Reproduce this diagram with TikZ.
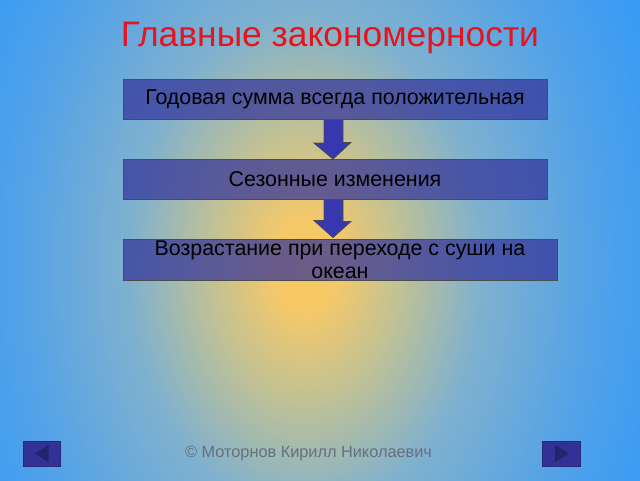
\documentclass[tikz,border=0pt]{standalone}
\usepackage{fontspec}
\setmainfont{Liberation Sans}
\definecolor{bgA}{RGB}{250,202,90}
\definecolor{bgB}{RGB}{244,200,106}
\definecolor{bgC}{RGB}{196,194,146}
\definecolor{bgD}{RGB}{128,177,206}
\definecolor{bgE}{RGB}{82,162,232}
\definecolor{bgF}{RGB}{55,155,245}
\definecolor{boxfill}{RGB}{51,51,153}
\definecolor{arrowfill}{RGB}{55,55,175}
\definecolor{titlered}{RGB}{230,20,30}
\definecolor{footgray}{RGB}{100,112,128}
\definecolor{navfill}{RGB}{50,50,150}
\definecolor{navtri}{RGB}{35,35,110}
\pgfdeclareradialshading{bgshade}{\pgfpoint{0bp}{0bp}}{color(0bp)=(bgA); color(2.2bp)=(bgB); color(6bp)=(bgC); color(11.5bp)=(bgD); color(19bp)=(bgE); color(25bp)=(bgF); color(50bp)=(bgF)}
\tikzset{
  flowbox/.style={draw=black!70, line width=0.8pt, fill=boxfill, fill opacity=0.72, text opacity=1, inner sep=0pt, align=center, font=\fontsize{21.4}{24}\selectfont, minimum height=40pt},
  downarrow/.style={draw=black!70, line width=0.8pt, fill=arrowfill},
  navbtn/.style={fill=navfill, draw=navfill!80!black, line width=0.5pt},
}
\begin{document}
\begin{tikzpicture}[x=1pt,y=-1pt]
\useasboundingbox (0,0) rectangle (640,480);
\begin{scope}
\clip (0,0) rectangle (640,480);
\fill[bgF] (0,0) rectangle (640,480);
\shade[shading=bgshade] (-75,-275) rectangle (685,805);
\end{scope}
% title
\node[text=titlered, font=\fontsize{35.4}{40}\selectfont] (title) at (330,38) {Главные закономерности};
% boxes
\node[flowbox, minimum width=424pt] (b1) at (335,99) {Годовая сумма всегда положительная};
\node[flowbox, minimum width=424pt] (b2) at (335,179) {Сезонные изменения};
\node[flowbox, minimum width=434pt, minimum height=41pt] (b3) at (340,259.5) {Возрастание при переходе с суши на\\[-1pt]океан};
% arrows
\draw[downarrow] ([xshift=-9pt]b1.south -| 333,0) -- ++(19,0) -- ++(0,23) -- ++(8,0) -- ([yshift=-0.5pt]b2.north -| 333,0) -- ++(-19,-16) -- ++(10,0) -- cycle;
\draw[downarrow] ([xshift=-9pt]b2.south -| 333,0) -- ++(19,0) -- ++(0,22) -- ++(8,0) -- ([yshift=1pt]b3.north -| 333,0) -- ++(-19,-17) -- ++(10,0) -- cycle;
% footer
\node[text=footgray, font=\fontsize{16.3}{18}\selectfont] (foot) at (308.5,453) {© Моторнов Кирилл Николаевич};
% nav buttons
\node[navbtn, minimum width=37pt, minimum height=25pt, inner sep=0pt] (prev) at (41.5,453.5) {};
\fill[navtri] ([xshift=-7pt]prev.center) -- ++(14,-8.5) -- ++(0,17) -- cycle;
\node[navbtn, minimum width=38pt, minimum height=25pt, inner sep=0pt] (next) at (561,453.5) {};
\fill[navtri] ([xshift=8pt]next.center) -- ++(-14,-8.5) -- ++(0,17) -- cycle;
\end{tikzpicture}
\end{document}
